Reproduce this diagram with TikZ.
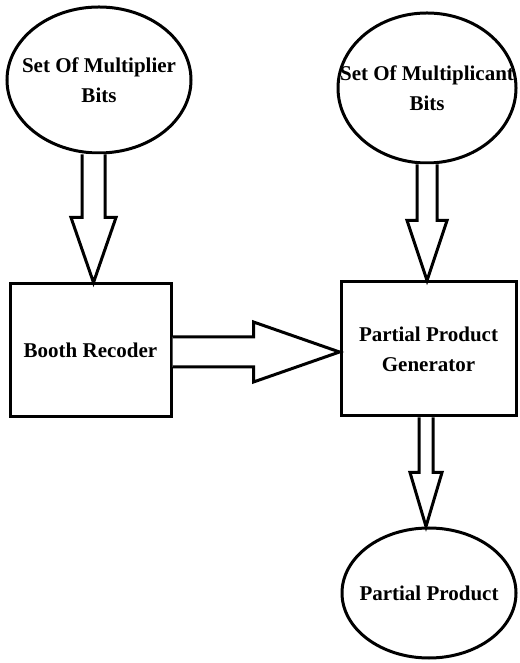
\documentclass[tikz,border=0pt]{standalone}
\usepackage{fontspec}
\setmainfont{Liberation Serif}
\usetikzlibrary{shapes.geometric,calc}
\tikzset{
  setnode/.style={ellipse, draw, line width=3pt, inner ysep=0pt, inner xsep=-32pt,
    align=center, font=\bfseries\fontsize{21}{30}\selectfont},
  unitbox/.style={rectangle, draw, line width=3pt, inner sep=0pt, align=center,
    font=\bfseries\fontsize{21}{30}\selectfont},
  blockarrow/.style={draw, line width=3pt, fill=white, line join=miter}
}
% block arrows: from, to, shaft half width, head half width, head length
\newcommand{\vblock}[5]{%
  \draw[blockarrow] let \p1=(#1), \p2=(#2) in
    (\x1-#3,\y1) -- (\x1-#3,\y2+#5) -- (\x1-#4,\y2+#5) -- (\x1,\y2)
    -- (\x1+#4,\y2+#5) -- (\x1+#3,\y2+#5) -- (\x1+#3,\y1);}
\newcommand{\hblock}[5]{%
  \draw[blockarrow] let \p1=(#1), \p2=(#2) in
    (\x1,\y1+#3) -- (\x2-#5,\y1+#3) -- (\x2-#5,\y1+#4) -- (\x2,\y1)
    -- (\x2-#5,\y1-#4) -- (\x2-#5,\y1-#3) -- (\x1,\y1-#3);}
\begin{document}
\begin{tikzpicture}[x=1pt, y=1pt]
  \useasboundingbox (0,0) rectangle (519,663);
  \node[setnode, minimum width=184pt, minimum height=146pt] (mult) at (99,583)
    {Set Of Multiplier\\Bits};
  \node[setnode, minimum width=178pt, minimum height=150pt] (mcand) at (427,575)
    {Set Of Multiplicant\\Bits};
  \node[unitbox, minimum width=161pt, minimum height=133pt] (booth) at (90.5,312.5)
    {Booth Recoder};
  \node[unitbox, minimum width=175pt, minimum height=134pt] (ppg) at (428.5,314)
    {Partial Product\\Generator};
  \node[setnode, minimum width=174pt, minimum height=130pt] (pp) at (429,70)
    {Partial Product};

  \vblock{$(mult.south)+(-5.5,0)$}{booth.north}{11.5pt}{22.5pt}{65pt}
  \vblock{mcand.south}{ppg.north}{10pt}{20pt}{60pt}
  \hblock{$(booth.east)+(0,-1.5)$}{ppg.west}{15pt}{30pt}{86pt}
  \vblock{$(ppg.south)+(-2.5,0)$}{pp.north}{7pt}{16pt}{54pt}
\end{tikzpicture}
\end{document}
